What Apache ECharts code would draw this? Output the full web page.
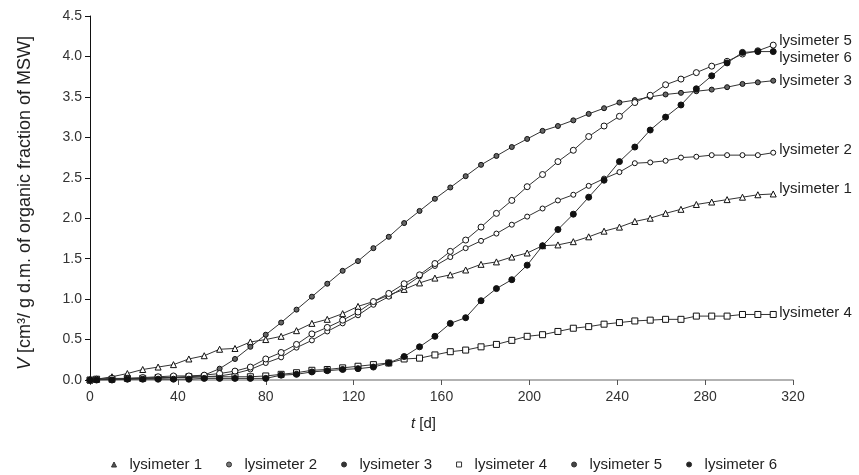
<!DOCTYPE html>
<html><head><meta charset="utf-8">
<script src="https://cdn.jsdelivr.net/npm/echarts@6/dist/echarts.min.js"></script>
<style>html,body{margin:0;padding:0;background:#fff}#c{width:859px;height:475px}</style>
</head><body><div id="c"></div>
<script>
var days = [0,3,10,17,24,31,38,45,52,59,66,73,80,87,94,101,108,115,122,129,136,143,150,157,164,171,178,185,192,199,206,213,220,227,234,241,248,255,262,269,276,283,290,297,304,311];
var lys1 = [0,0.01,0.04,0.08,0.13,0.16,0.19,0.26,0.30,0.38,0.39,0.47,0.50,0.54,0.61,0.70,0.75,0.82,0.91,0.97,1.05,1.12,1.20,1.26,1.30,1.36,1.43,1.46,1.52,1.57,1.66,1.67,1.71,1.77,1.84,1.89,1.96,2.00,2.06,2.11,2.17,2.20,2.23,2.26,2.29,2.30];
var lys2 = [0,0,0.01,0.01,0.02,0.02,0.03,0.03,0.04,0.05,0.08,0.13,0.21,0.28,0.40,0.49,0.60,0.70,0.80,0.93,1.03,1.15,1.28,1.41,1.52,1.63,1.72,1.81,1.92,2.02,2.12,2.22,2.29,2.40,2.49,2.57,2.68,2.69,2.71,2.75,2.76,2.78,2.78,2.78,2.78,2.81];
var lys3 = [0,0.01,0.01,0.02,0.02,0.03,0.03,0.04,0.06,0.14,0.26,0.41,0.56,0.71,0.87,1.03,1.19,1.35,1.47,1.63,1.77,1.94,2.09,2.24,2.38,2.52,2.66,2.77,2.88,2.98,3.08,3.14,3.21,3.29,3.36,3.43,3.46,3.50,3.53,3.55,3.57,3.59,3.62,3.66,3.68,3.70];
var lys4 = [0,0.01,0.01,0.02,0.02,0.03,0.03,0.04,0.04,0.04,0.04,0.04,0.05,0.07,0.09,0.12,0.13,0.15,0.17,0.19,0.21,0.26,0.27,0.31,0.35,0.37,0.41,0.44,0.49,0.54,0.56,0.60,0.64,0.66,0.69,0.71,0.73,0.74,0.75,0.75,0.79,0.79,0.79,0.81,0.81,0.81];
var lys5 = [0,0.01,0.02,0.02,0.03,0.04,0.05,0.05,0.06,0.08,0.11,0.16,0.26,0.34,0.44,0.57,0.65,0.74,0.84,0.97,1.07,1.19,1.30,1.44,1.59,1.73,1.89,2.06,2.22,2.39,2.54,2.70,2.84,3.01,3.14,3.26,3.43,3.52,3.65,3.72,3.80,3.88,3.94,4.03,4.07,4.14];
var lys6 = [0,0,0,0.01,0.01,0.01,0.01,0.01,0.02,0.02,0.02,0.02,0.02,0.06,0.07,0.10,0.115,0.13,0.14,0.16,0.21,0.29,0.41,0.54,0.70,0.77,0.98,1.13,1.24,1.42,1.66,1.86,2.05,2.26,2.47,2.70,2.88,3.09,3.25,3.40,3.60,3.76,3.92,4.05,4.06,4.06];
var names = ['lysimeter 1','lysimeter 2','lysimeter 3','lysimeter 4','lysimeter 5','lysimeter 6'];
var values = [lys1, lys2, lys3, lys4, lys5, lys6];
var xTicks = [0,40,80,120,160,200,240,280,320];
var yTicks = [0,0.5,1.0,1.5,2.0,2.5,3.0,3.5,4.0,4.5];

var FONT = 'Liberation Sans';
var symbols = ['triangle','circle','circle','rect','circle','circle'];
var sizes = [6,5,5,6,6,6];
var fills = ['#fff','#fff','#666','#fff','#fff','#111'];
var legendFills = ['#555','#777','#333','#fff','#444','#222'];
var labelOffsets = [[0,-5],[0,-3],[0,0],[0,-2],[0,-4],[0,6]];

var series = names.map(function(n,i){
  return {
    name: n, type: 'line',
    data: days.map(function(d,j){ return [d, values[i][j]]; }),
    symbol: symbols[i], symbolSize: sizes[i], showAllSymbol: true,
    lineStyle: {color:'#333', width:1},
    itemStyle: {color: fills[i], borderColor:'#111', borderWidth:1},
    emphasis: {disabled:true},
    endLabel: {show:true, formatter: n, distance: 6, offset: labelOffsets[i],
      color:'#222', fontFamily: FONT, fontSize: 15},
    z: 2 + i
  };
});

var chart = echarts.init(document.getElementById('c'), null, {renderer:'canvas'});
chart.setOption({
  animation: false,
  backgroundColor: '#fff',
  grid: {left: 90, right: 66, top: 16, bottom: 95, containLabel: false},
  xAxis: {
    type: 'value', min: xTicks[0], max: xTicks[xTicks.length-1], interval: 40,
    name: '{i|t} [d]', nameLocation: 'middle', nameGap: 36,
    nameTextStyle: {fontFamily: FONT, fontSize: 15, color:'#222', padding:[0,36,0,0],
      rich: {i: {fontStyle:'italic', fontFamily: FONT, fontSize: 15, color:'#222'}}},
    axisLine: {onZero:false, lineStyle: {color:'#999', width:1.5}},
    axisTick: {show:true, inside:false, length:5, lineStyle:{color:'#555'}},
    axisLabel: {fontFamily: FONT, fontSize: 14, color:'#333', margin: 10},
    splitLine: {show:false}
  },
  yAxis: {
    type: 'value', min: yTicks[0], max: yTicks[yTicks.length-1], interval: 0.5,
    name: '{i|V} [cm³/ g d.m. of organic fraction of MSW]', nameLocation: 'middle', nameGap: 56, nameRotate: 90,
    nameTextStyle: {fontFamily: FONT, fontSize: 18, color:'#222', padding:[0,10,0,0],
      rich: {i: {fontStyle:'italic', fontFamily: FONT, fontSize: 18, color:'#222'}}},
    axisLine: {show:true, lineStyle: {color:'#111', width:1}},
    axisTick: {show:true, inside:false, length:5, lineStyle:{color:'#111'}},
    axisLabel: {fontFamily: FONT, fontSize: 14, color:'#333', margin: 8,
      formatter: function(v){ return v.toFixed(1); }},
    splitLine: {show:false}
  },
  legend: {
    left: 106, top: 452, itemWidth: 5, itemHeight: 5, itemGap: 24,
    textStyle: {fontFamily: FONT, fontSize: 15, color:'#222', padding:[0,0,0,8]},
    data: names.map(function(n,i){ return {name:n, icon: symbols[i], itemStyle:{color: legendFills[i], borderColor:'#333', borderWidth:1}}; })
  },
  series: series
});
</script></body></html>
